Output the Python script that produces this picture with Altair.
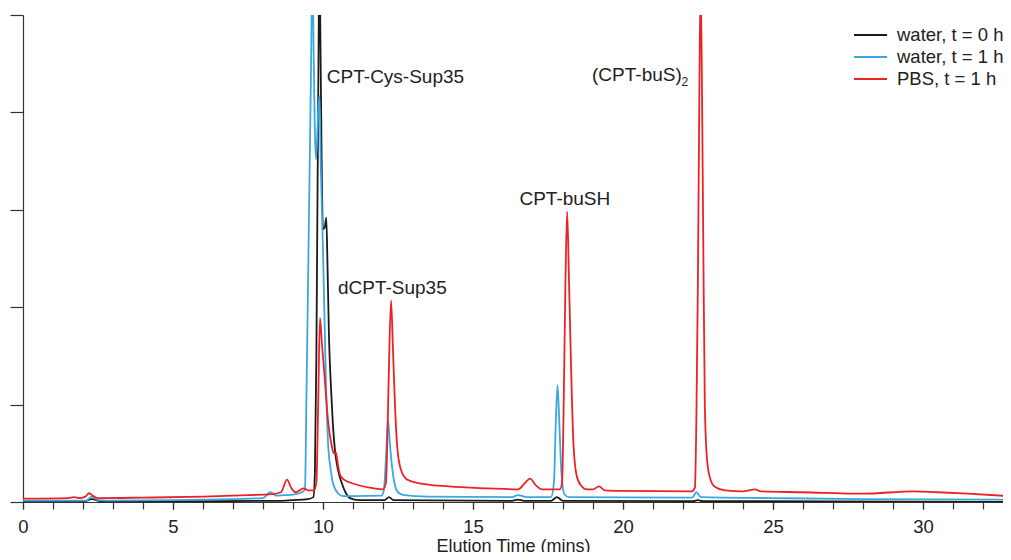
import altair as alt
import pandas as pd

series_names = ["water, t = 0 h", "water, t = 1 h", "PBS, t = 1 h"]
series_colors = ["#1a1a1a", "#3aa8e0", "#ec2227"]

black_t = [0, 2.0, 2.3, 2.6, 5.0, 8.5, 9.0, 9.5, 9.68, 9.73,
           9.78, 9.81, 9.85, 9.88, 9.92, 9.96, 10.0, 10.06, 10.11, 10.15,
           10.2, 10.26, 10.33, 10.4, 10.5, 10.62, 10.75, 10.9, 11.2, 12.05,
           12.2, 12.35, 16.3, 16.5, 16.7, 17.6, 17.8, 18.0, 22.35, 22.5,
           22.65, 27, 32.9]
black_y = [0.005, 0.005, 0.03, 0.008, 0.006, 0.012, 0.02, 0.03, 0.05, 0.3,
           1.5, 2.8, 4.5, 5.6, 4.6, 3.4, 2.8, 2.82, 2.92, 2.45,
           1.7, 1.22, 0.8, 0.53, 0.33, 0.2, 0.1, 0.04, 0.02, 0.02,
           0.05, 0.02, 0.012, 0.025, 0.012, 0.012, 0.05, 0.012, 0.01, 0.02,
           0.01, 0.005, 0.0]

blue_t = [0, 2.1, 2.3, 2.5, 2.8, 5.0, 8.0, 8.25, 8.45, 8.7,
          9.0, 9.3, 9.4, 9.45, 9.5, 9.55, 9.6, 9.65, 9.69, 9.73,
          9.77, 9.82, 9.88, 9.93, 10.0, 10.05, 10.1, 10.18, 10.25, 10.33,
          10.5, 10.67, 11.0, 11.95, 12.03, 12.1, 12.17, 12.23, 12.29, 12.38,
          12.5, 12.7, 13.5, 16.3, 16.5, 16.8, 17.6, 17.7, 17.76, 17.82,
          17.88, 17.95, 18.05, 18.2, 22.3, 22.45, 22.6, 25, 28, 32.9]
blue_y = [0.015, 0.015, 0.055, 0.02, 0.015, 0.02, 0.04, 0.1, 0.065, 0.07,
          0.075, 0.1, 0.13, 1.1, 2.2, 3.3, 4.4, 5.5, 4.6, 3.8,
          3.52, 3.85, 4.17, 3.4, 2.6, 1.9, 1.22, 0.55, 0.35, 0.2,
          0.09, 0.06, 0.06, 0.065, 0.12, 0.45, 0.84, 0.6, 0.4, 0.2,
          0.1, 0.07, 0.055, 0.05, 0.07, 0.05, 0.05, 0.2, 0.8, 1.2,
          0.8, 0.3, 0.08, 0.05, 0.045, 0.1, 0.05, 0.04, 0.03, 0.025]

red_t = [0, 1.5, 1.7, 1.9, 2.1, 2.2, 2.35, 2.5, 4.0, 6.0,
         7.5, 8.3, 8.6, 8.8, 8.95, 9.1, 9.35, 9.5, 9.7, 9.78,
         9.84, 9.9, 9.96, 10.07, 10.18, 10.29, 10.36, 10.43, 10.5, 10.58,
         10.75, 10.9, 11.5, 12.0, 12.1, 12.15, 12.2, 12.27, 12.33, 12.4,
         12.48, 12.6, 12.8, 13.1, 14.2, 15.5, 16.5, 16.75, 16.9, 17.1,
         17.3, 17.9, 17.97, 18.02, 18.08, 18.14, 18.2, 18.27, 18.35, 18.45,
         18.6, 18.8, 19.0, 19.2, 19.4, 20.0, 22.3, 22.4, 22.45, 22.5,
         22.55, 22.59, 22.63, 22.68, 22.73, 22.8, 22.9, 23.05, 23.4, 24.0,
         24.4, 24.6, 26.0, 28.0, 29.7, 30.5, 31.5, 32.9]
red_y = [0.035, 0.04, 0.05, 0.04, 0.06, 0.09, 0.06, 0.04, 0.045, 0.055,
         0.07, 0.08, 0.1, 0.23, 0.14, 0.1, 0.14, 0.12, 0.12, 0.2,
         1.0, 1.89, 1.65, 1.22, 0.8, 0.58, 0.5, 0.51, 0.38, 0.27,
         0.22, 0.2, 0.15, 0.13, 0.2, 0.7, 1.4, 2.07, 1.6, 1.0,
         0.55, 0.33, 0.23, 0.2, 0.16, 0.14, 0.13, 0.2, 0.24, 0.17,
         0.13, 0.13, 0.2, 0.9, 2.2, 2.98, 2.3, 1.4, 0.6, 0.28,
         0.17, 0.13, 0.13, 0.16, 0.12, 0.115, 0.11, 0.15, 0.9, 2.3,
         4.3, 5.3, 4.4, 2.6, 1.0, 0.45, 0.25, 0.16, 0.12, 0.11,
         0.13, 0.11, 0.1, 0.085, 0.11, 0.1, 0.085, 0.06]

ann_labels = ["CPT-Cys-Sup35", "dCPT-Sup35", "CPT-buSH", "(CPT-buS)"]
ann_x = [10.13, 10.5, 16.55, 18.97]
ann_y = [4.36, 2.2, 3.11, 4.38]
sub_labels = ["2"]
sub_x = [21.95]
sub_y = [4.31]

major_ticks = [0, 5, 10, 15, 20, 25, 30]
minor_ticks = list(range(0, 33))
y_ticks = [0, 1, 2, 3, 4, 5]

FONT = "Liberation Sans"
FS = 18.5

frames = []
for name, t, y in zip(series_names, [black_t, blue_t, red_t], [black_y, blue_y, red_y]):
    frames.append(pd.DataFrame({"time": t, "signal": y, "series": name}))
df = pd.concat(frames, ignore_index=True)

ann_df = pd.DataFrame({"label": ann_labels, "time": ann_x, "signal": ann_y})
sub_df = pd.DataFrame({"label": sub_labels, "time": sub_x, "signal": sub_y})

x_scale = alt.Scale(domain=[0, 32.67], nice=False, zero=False)
y_scale = alt.Scale(domain=[0, 5], nice=False)

lines = alt.Chart(df).mark_line(strokeWidth=1.8, clip=True, interpolate="monotone").encode(
    x=alt.X("time:Q", scale=x_scale,
            axis=alt.Axis(title="Elution Time (mins)", values=major_ticks, orient="bottom",
                          labelOverlap=False, labelFlush=False, tickSize=7,
                          labelPadding=8, titleY=49, titleBaseline="alphabetic",
                          titleFontSize=18)),
    y=alt.Y("signal:Q", scale=y_scale,
            axis=alt.Axis(title=None, values=y_ticks, labels=False, tickSize=13)),
    color=alt.Color("series:N",
                    scale=alt.Scale(domain=series_names, range=series_colors),
                    legend=alt.Legend(title=None, orient="none", legendX=830, legendY=11,
                                      symbolType="stroke", symbolSize=1089,
                                      symbolStrokeWidth=2, labelFontSize=FS,
                                      labelFont=FONT, labelColor="#222222",
                                      clipHeight=18, rowPadding=3, labelOffset=9)),
)

texts = alt.Chart(ann_df).mark_text(align="left", baseline="middle", fontSize=19,
                                     font=FONT, color="#222222").encode(
    x=alt.X("time:Q", scale=x_scale,
            axis=alt.Axis(title=None, values=minor_ticks, labels=False, domain=False,
                          orient="bottom", tickSize=7)),
    y=alt.Y("signal:Q", scale=y_scale),
    text="label:N",
)

subs = alt.Chart(sub_df).mark_text(align="left", baseline="middle", fontSize=12,
                                    font=FONT, color="#222222").encode(
    x=alt.X("time:Q", scale=x_scale, axis=None),
    y=alt.Y("signal:Q", scale=y_scale),
    text="label:N",
)

chart = alt.layer(lines, texts, subs).resolve_axis(x="independent").properties(
    width=980, height=487,
    autosize=alt.AutoSizeParams(type="none"),
    padding={"left": 15, "top": 7, "right": 0, "bottom": 50},
).configure_view(stroke=None).configure_axis(
    grid=False, domainColor="#333333", tickColor="#333333", domainWidth=1.2,
    tickWidth=1.2, labelFont=FONT, labelFontSize=FS, labelColor="#222222",
    titleFont=FONT, titleFontSize=FS, titleColor="#222222", titleFontWeight="normal",
)

chart.save("out.html", embed_options={"renderer": "svg", "actions": False})
